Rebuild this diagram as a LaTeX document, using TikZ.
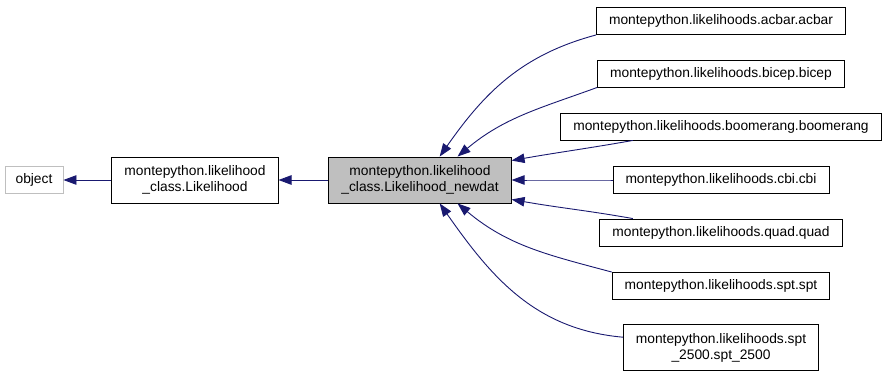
\documentclass[tikz,border=0pt]{standalone}
\usepackage{fontspec}
\setmainfont{Liberation Sans}
\usetikzlibrary{positioning, calc}
\usetikzlibrary{arrows.meta}

\definecolor{edgeblue}{HTML}{191970}
\definecolor{classgray}{HTML}{BFBFBF}

\begin{document}
\begin{tikzpicture}[x=1pt, y=1pt,
    every node/.style={draw, rectangle, inner ysep=0pt, inner xsep=12.5pt, minimum height=27pt,
        align=center, line width=0.9pt, font=\fontsize{13.8}{16}\selectfont},
    tall/.style={minimum height=46pt},
    inherit/.style={draw=edgeblue, line width=0.9pt, {Triangle[length=13pt, width=9.5pt]}-}]

    \useasboundingbox (0,0) rectangle (888,376);

    % Parameters
    \def\colx{721} % x of the derived classes column
    \def\rowy{196} % y of the base class row

    % Base classes
    \node[draw=classgray, minimum width=58pt, inner xsep=0pt] (object) at (34,\rowy) {object};
    \node[tall] (likelihood) at (195,\rowy) {montepython.likelihood\\\_class.Likelihood};
    \node[tall, fill=classgray] (newdat) at (420,\rowy) {montepython.likelihood\\\_class.Likelihood\_newdat};

    % Derived likelihoods
    \node (acbar) at (\colx,355) {montepython.likelihoods.acbar.acbar};
    \node (bicep) at (\colx,302.5) {montepython.likelihoods.bicep.bicep};
    \node (boomerang) at (\colx,249.5) {montepython.likelihoods.boomerang.boomerang};
    \node (cbi) at (\colx,\rowy) {montepython.likelihoods.cbi.cbi};
    \node (quad) at (\colx,143.5) {montepython.likelihoods.quad.quad};
    \node (spt) at (\colx,90) {montepython.likelihoods.spt.spt};
    \node[tall] (spt2500) at (\colx,28.5) {montepython.likelihoods.spt\\\_2500.spt\_2500};

    % Inheritance edges
    \draw[inherit] (object) -- (likelihood);
    \draw[inherit] (likelihood) -- (newdat);

    \foreach \a/\b/\o/\i in {
        50/acbar.south west/55/195,
        32/bicep.south west/40/200,
        12/boomerang.189/10/190,
        0/cbi.west/0/180,
        -12/quad.171/-10/170,
        -32/spt.north west/-40/165,
        -50/spt2500.174/-55/175} {
        \draw[inherit] (newdat.\a) to[out=\o, in=\i] (\b);
    }

\end{tikzpicture}
\end{document}
